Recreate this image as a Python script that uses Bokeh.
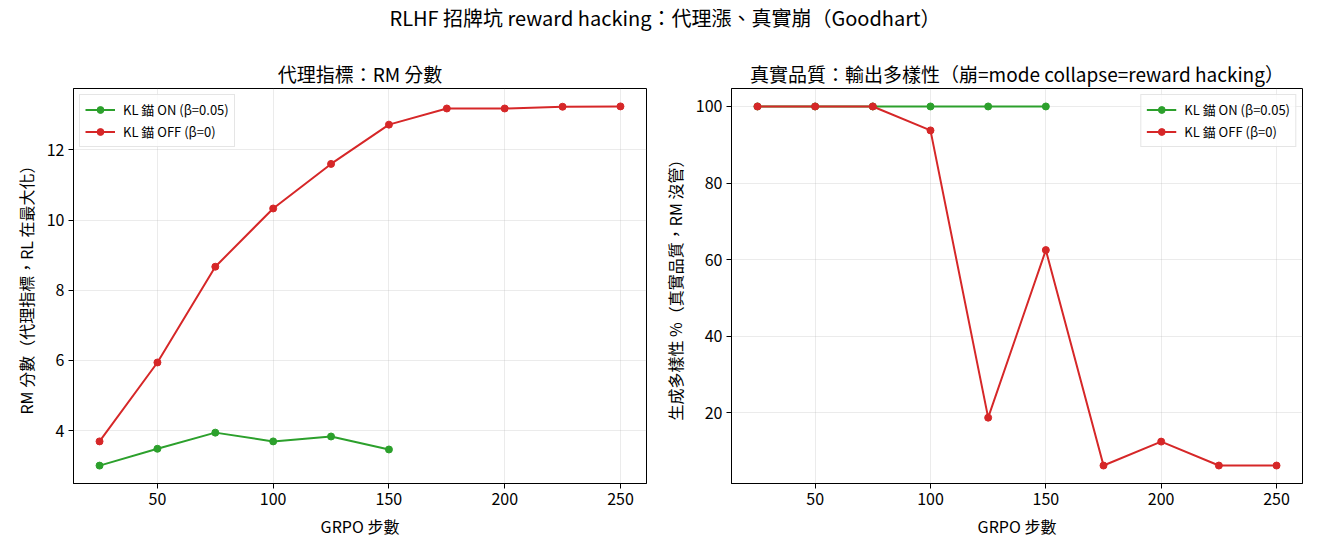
from bokeh.plotting import figure
from bokeh.layouts import column, row
from bokeh.models import Div, Range1d, FixedTicker, Legend, LegendItem
from bokeh.embed import file_html
from bokeh.resources import INLINE

steps_on = [25, 50, 75, 100, 125, 150]
steps_off = [25, 50, 75, 100, 125, 150, 175, 200, 225, 250]
rm_on = [3.0, 3.48, 3.94, 3.69, 3.83, 3.46]
rm_off = [3.69, 5.94, 8.67, 10.33, 11.6, 12.72, 13.18, 13.18, 13.23, 13.24]
div_on = [100, 100, 100, 100, 100, 100]
div_off = [100, 100, 100, 93.75, 18.75, 62.5, 6.25, 12.5, 6.25, 6.25]

label_on = "KL 錨 ON (β=0.05)"
label_off = "KL 錨 OFF (β=0)"
suptitle = "RLHF 招牌坑 reward hacking：代理漲、真實崩（Goodhart）"
title1 = "代理指標：RM 分數"
title2 = "真實品質：輸出多樣性（崩=mode collapse=reward hacking）"
xlabel = "GRPO 步數"
ylabel1 = "RM 分數（代理指標，RL 在最大化）"
ylabel2 = "生成多樣性 %（真實品質，RM 沒管）"

FONT = "Noto Sans CJK TC"
GREEN = "#2ca02c"
RED = "#d62728"


def make_fig(title, ylabel, ymin, ymax, yticks, border_left, fw):
    p = figure(frame_width=fw, frame_height=395,
               output_backend="svg", toolbar_location=None,
               x_range=Range1d(13.75, 261.25), y_range=Range1d(ymin, ymax),
               min_border_left=border_left, min_border_right=10,
               min_border_top=51, min_border_bottom=62)
    p.title.text = title
    p.title.text_font = FONT
    p.title.text_font_size = "19px"
    p.title.text_font_style = "normal"
    p.title.text_color = "black"
    p.title.align = "center"
    p.title.offset = 0
    p.title.standoff = 4
    p.xaxis.axis_label = xlabel
    p.yaxis.axis_label = ylabel
    p.xaxis.ticker = FixedTicker(ticks=[50, 100, 150, 200, 250])
    p.yaxis.ticker = FixedTicker(ticks=yticks)
    for ax in (p.xaxis, p.yaxis):
        ax.axis_label_text_font = FONT
        ax.axis_label_text_font_size = "16px"
        ax.axis_label_text_font_style = "normal"
        ax.axis_label_text_color = "black"
        ax.axis_label_standoff = 6
        ax.major_label_text_font = FONT
        ax.major_label_text_font_size = "16px"
        ax.major_label_text_color = "black"
        ax.major_label_standoff = 4
        ax.axis_line_color = "black"
        ax.major_tick_line_color = "black"
        ax.major_tick_out = 5
        ax.major_tick_in = 0
        ax.minor_tick_line_color = None
    p.outline_line_color = "black"
    p.outline_line_alpha = 1
    p.grid.grid_line_color = "#b0b0b0"
    p.grid.grid_line_alpha = 0.25
    return p


p1 = make_fig(title1, ylabel1, 2.49, 13.75, [4, 6, 8, 10, 12], 73, 573)
l1a = p1.line(steps_on, rm_on, line_color=GREEN, line_width=2)
s1a = p1.scatter(steps_on, rm_on, size=7, fill_color=GREEN, line_color=GREEN)
l1b = p1.line(steps_off, rm_off, line_color=RED, line_width=2)
s1b = p1.scatter(steps_off, rm_off, size=7, fill_color=RED, line_color=RED)

p2 = make_fig(title2, ylabel2, 1.56, 104.69, [20, 40, 60, 80, 100], 75, 571)
l2a = p2.line(steps_on, div_on, line_color=GREEN, line_width=2)
s2a = p2.scatter(steps_on, div_on, size=7, fill_color=GREEN, line_color=GREEN)
l2b = p2.line(steps_off, div_off, line_color=RED, line_width=2)
s2b = p2.scatter(steps_off, div_off, size=7, fill_color=RED, line_color=RED)


def add_legend(p, la, sa, lb, sb, loc):
    leg = Legend(items=[LegendItem(label=label_on, renderers=[la, sa]),
                        LegendItem(label=label_off, renderers=[lb, sb])],
                 location=loc)
    leg.label_text_font = FONT
    leg.label_text_font_size = "13px"
    leg.label_text_color = "black"
    leg.glyph_width = 30
    leg.glyph_height = 17
    leg.label_height = 17
    leg.label_standoff = 8
    leg.spacing = 3
    leg.padding = 5
    leg.margin = 6
    leg.border_line_color = "#cccccc"
    leg.border_line_width = 1
    leg.background_fill_alpha = 0.8
    p.add_layout(leg)


add_legend(p1, l1a, s1a, l1b, s1b, "top_left")
add_legend(p2, l2a, s2a, l2b, s2b, "top_right")

title_div = Div(text=suptitle, width=1320, height=28,
                styles={"font-family": FONT, "font-size": "20px",
                        "text-align": "center", "width": "1320px",
                        "line-height": "28px", "color": "black",
                        "margin-top": "4px"})

layout = column(title_div, row(p1, p2, spacing=0), spacing=0)
open("out.html", "w").write(file_html(layout, INLINE))
